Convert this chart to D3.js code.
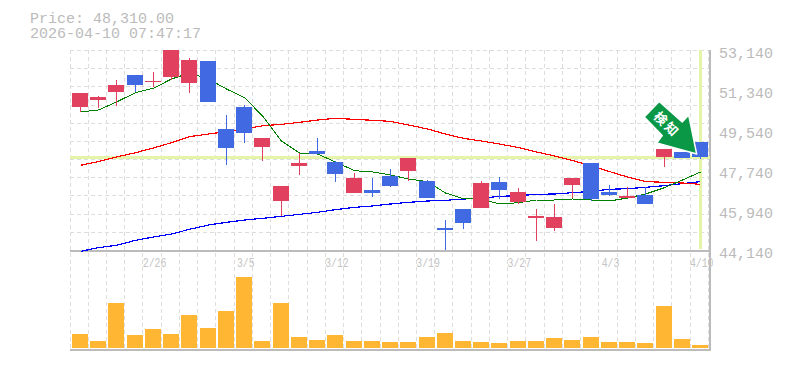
<!DOCTYPE html>
<html><head><meta charset="utf-8">
<script src="https://cdn.jsdelivr.net/npm/d3@7/dist/d3.min.js"></script>
<style>html,body{margin:0;padding:0;background:#fff}svg{display:block}text{font-family:"Liberation Mono",monospace}</style>
</head><body><svg id="c" width="785" height="370"></svg>
<script>
const dates=["2/19","2/20","2/24","2/25","2/26","2/27","3/2","3/3","3/4","3/5","3/6","3/9","3/10","3/11","3/12","3/13","3/16","3/17","3/18","3/19","3/23","3/24","3/25","3/26","3/27","3/30","3/31","4/1","4/2","4/3","4/6","4/7","4/8","4/9","4/10"];
const tickDates=["2/26","3/5","3/12","3/19","3/27","4/3","4/10"];
const priceTicks=[53140,51340,49540,47740,45940,44140];
const open=[50575,50890,51250,52015,51700,51925,51655,52645,49585,50575,48775,46345,47920,48595,48100,46705,46840,47470,47695,47245,45130,45985,46030,47200,46300,45580,45130,47065,48055,46750,46480,46615,48325,48550,49000];
const high=[51205,51070,51790,52015,52150,53140,52780,52645,50215,50665,49180,47020,48505,49180,48145,47605,47380,47785,48280,47290,45490,45985,47245,47425,46930,45985,46210,47380,48055,47065,46975,46975,48685,48550,49000];
const low=[50350,50530,50620,51250,51475,51790,51205,50800,47965,48955,48145,45670,47515,48460,47200,46705,46525,46975,47245,46480,44140,45085,46030,46435,46210,44545,44995,46480,46345,46570,46480,46210,47875,48280,48235];
const close=[51205,51025,51565,51565,51745,53140,52690,50800,48730,49405,49180,47020,48055,48460,47560,47380,46705,47020,48280,46480,45040,45355,47155,46840,46750,45670,45625,47380,46435,46615,46570,46210,48685,48280,48310];
const maShort=[50350,50440,50800,51220,51420,51835,52105,51835,51385,51000,50170,49045,48505,48460,48100,47710,47650,47515,47335,47215,46705,46450,46435,46210,46270,46390,46390,46435,46390,46345,46480,46660,46945,47290,47650];
const maMid=[47950,48120,48325,48520,48730,48970,49240,49360,49470,49585,49730,49795,49885,49990,50065,50020,49975,49930,49765,49585,49360,49165,49045,48910,48750,48550,48370,48170,47920,47670,47425,47220,47185,47155,47095];
const maLong=[44080,44245,44350,44575,44725,44860,45070,45265,45385,45490,45565,45655,45745,45835,45955,46060,46120,46210,46285,46345,46375,46435,46465,46555,46585,46645,46660,46720,46780,46870,46900,46960,47035,47125,47215];
const volume=[14,7,45,13,19,14,33,20,37,71,7,45,11,8,13,7,7,6,6,11,15,7,6,5,7,7,10,8,11,6,6,5,42,9,3];
const lastPrice=48310;

const UP="#e2405f",DOWN="#4169e1",TXT="#bbbbbb",GRID="#dddddd",HILITE="#e4f4a8",AXIS="#bbbbbb";
const svg=d3.select("#c");
const x=d3.scaleBand().domain(dates).range([70,708.3]);
const y=d3.scaleLinear().domain([44140,53140]).range([250,50]);
const v=d3.scaleLinear().domain([0,100]).range([348,248]);
const gridX=d=>Math.floor(x(d))+.5;
const barX=d=>Math.round(x(d)+2);
const cx=d=>barX(d)+8.5;

// grid
const g=svg.append("g").attr("stroke",GRID).attr("stroke-dasharray","4,3").attr("shape-rendering","crispEdges");
g.selectAll("line.v").data(dates.concat(["_end"])).join("line")
 .attr("x1",d=>d==="_end"?708.5:gridX(d)).attr("x2",d=>d==="_end"?708.5:gridX(d)).attr("y1",50).attr("y2",350);
g.selectAll("line.h").data(d3.range(12)).join("line")
 .attr("x1",70).attr("x2",709).attr("y1",d=>Math.round(y(44140+d*9000/11))+.5).attr("y2",d=>Math.round(y(44140+d*9000/11))+.5);

// frame
const f=svg.append("g").attr("stroke",AXIS).attr("shape-rendering","crispEdges");
f.append("line").attr("x1",70).attr("x2",711).attr("y1",250.5).attr("y2",250.5).attr("stroke-width",2);
f.append("line").attr("x1",70).attr("x2",711).attr("y1",350).attr("y2",350).attr("stroke-width",2);
f.append("line").attr("x1",710).attr("x2",710).attr("y1",50).attr("y2",351).attr("stroke-width",1.5);

// highlight lines
svg.append("line").attr("x1",70).attr("x2",710).attr("y1",Math.round(y(lastPrice))+.5).attr("y2",Math.round(y(lastPrice))+.5).attr("stroke",HILITE).attr("stroke-width",3).attr("shape-rendering","crispEdges");
svg.append("line").attr("x1",cx("4/10")).attr("x2",cx("4/10")).attr("y1",50).attr("y2",249).attr("stroke",HILITE).attr("stroke-width",3).attr("shape-rendering","crispEdges");

// axes
const ay=d3.axisRight(y).tickValues(priceTicks).tickSize(0).tickPadding(0).tickFormat(d3.format(","));
const gy=svg.append("g").attr("transform","translate(719,0)").call(ay);
gy.select(".domain").remove();
gy.selectAll("text").attr("dy",7).attr("x",0).attr("fill",TXT).style("font-size","15px").style("font-family","Liberation Mono");
const ax=d3.axisBottom(x).tickValues(tickDates).tickSize(0).tickPadding(0);
const gx=svg.append("g").attr("transform","translate(2.5,257)").call(ax);
gx.select(".domain").remove();
gx.selectAll("text").attr("dy",10).attr("y",0).attr("fill","#c4c4c4").style("font-size","13px").style("font-family","Liberation Mono")
 .attr("textLength",d=>d.length*5.9).attr("lengthAdjust","spacingAndGlyphs");

// volume
svg.append("g").attr("shape-rendering","crispEdges").selectAll("rect").data(dates).join("rect")
 .attr("x",barX).attr("width",16)
 .attr("y",(d,i)=>v(volume[i])).attr("height",(d,i)=>v(0)-v(volume[i])).attr("fill","#ffb733");

// moving averages sit behind the candles
const line=d3.line().x((d,i)=>cx(dates[i])).y(d=>y(d));
[[maLong,"#0000ff",1.2],[maMid,"#ff0000",1.2],[maShort,"#008000",1]].forEach(([s,color,w])=>{
 svg.append("path").attr("d",line(s)).attr("fill","none").attr("stroke",color).attr("stroke-width",w).attr("shape-rendering","crispEdges");
});

// candles
const col=i=>close[i]>=open[i]?UP:DOWN;
const c=svg.append("g").attr("shape-rendering","crispEdges");
c.selectAll("line").data(dates).join("line")
 .attr("x1",cx).attr("x2",cx)
 .attr("y1",(d,i)=>y(high[i])).attr("y2",(d,i)=>y(low[i])).attr("stroke",(d,i)=>col(i));
c.selectAll("rect").data(dates).join("rect")
 .attr("x",barX).attr("width",16)
 .attr("y",(d,i)=>y(Math.max(open[i],close[i])))
 .attr("height",(d,i)=>Math.abs(y(open[i])-y(close[i])))
 .attr("fill",(d,i)=>col(i));

// arrow annotation anchored to the last price
const a=svg.append("g").attr("transform",`translate(${cx("4/10")-3.8},${y(lastPrice)-3.3})`);
a.append("polygon").attr("points","-37.5,-52.5 -52.5,-37 -34.5,-18.5 -40,-11 0,0 -8,-39 -14.5,-32")
 .attr("fill","#0a9847").attr("stroke","#fff").attr("stroke-width",1.5).attr("stroke-linejoin","round");
a.append("text").attr("transform","translate(-30,-29.5) rotate(45)").attr("text-anchor","middle").attr("dy","0.36em")
 .attr("fill","#fff").style("font-family","Noto Sans CJK JP").style("font-weight",700).style("font-size","13px").style("letter-spacing","2px").text("検知");

// header
svg.append("text").attr("x",30).attr("y",23).attr("fill",TXT).style("font-size","15px").text("Price: 48,310.00");
svg.append("text").attr("x",30).attr("y",38).attr("fill",TXT).style("font-size","15px").text("2026-04-10 07:47:17");
</script></body></html>
